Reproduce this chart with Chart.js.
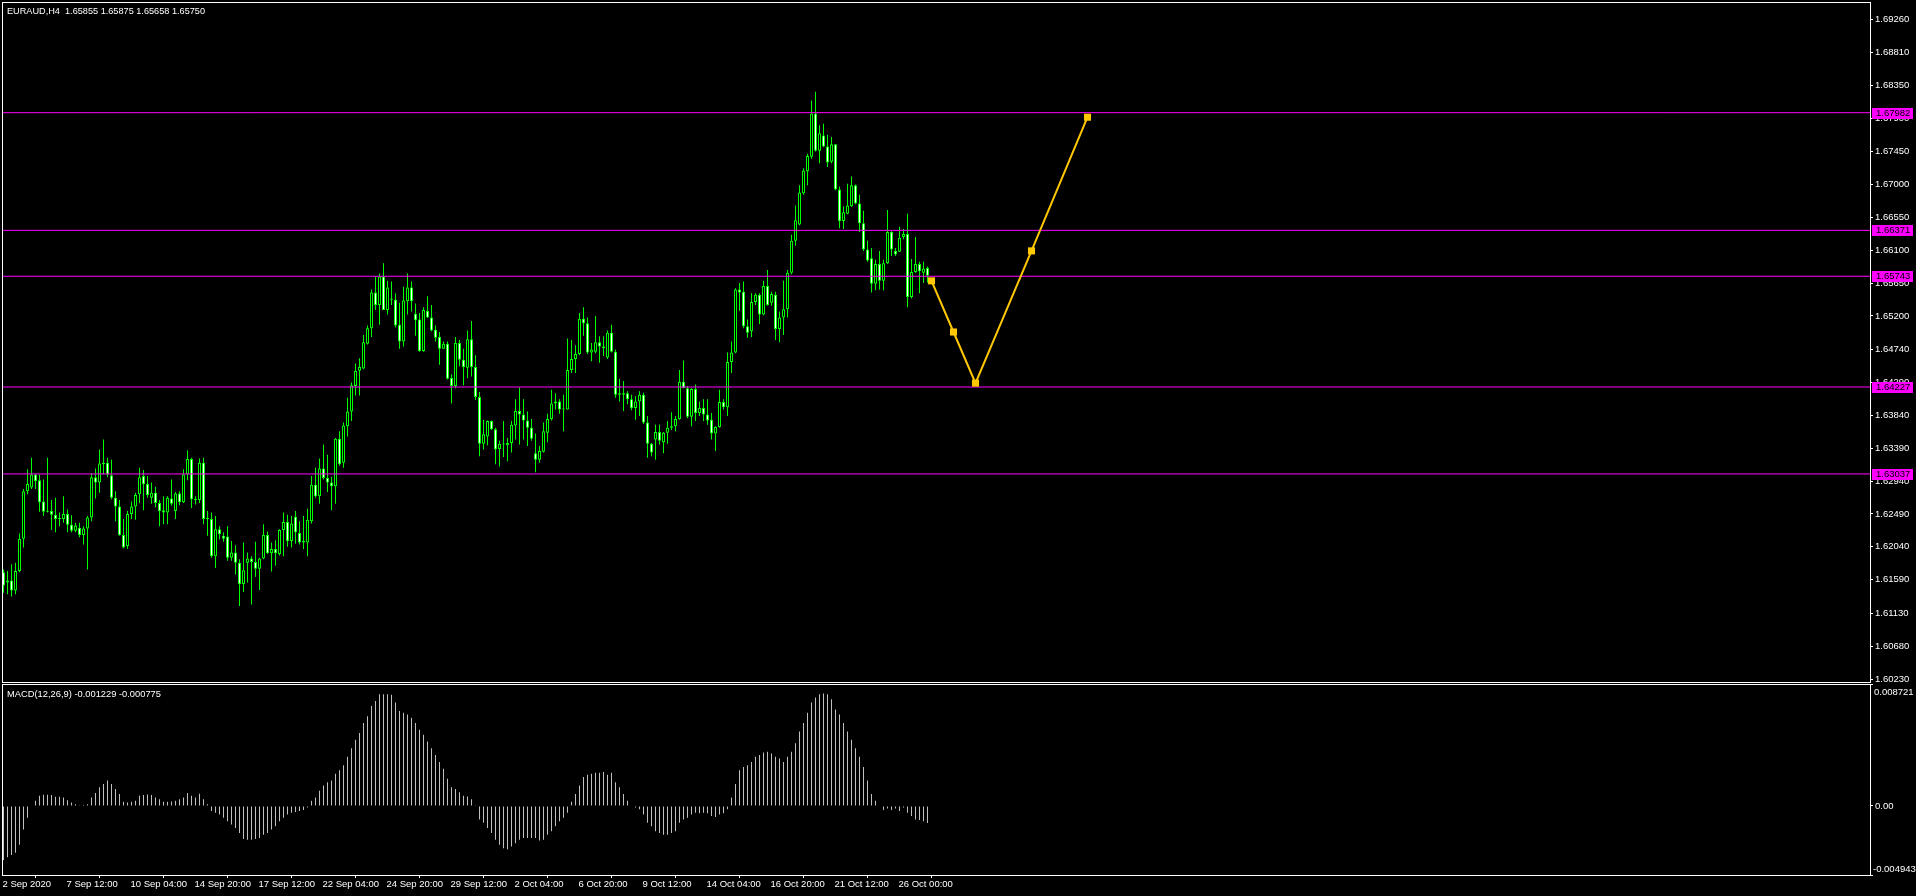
<!DOCTYPE html>
<html>
<head>
<meta charset="utf-8">
<title>EURAUD,H4</title>
<script src="https://cdn.jsdelivr.net/npm/chart.js@4.4.0/dist/chart.umd.min.js"></script>
<style>
  html, body { margin: 0; padding: 0; background: #000; overflow: hidden; }
  #wrap { position: relative; width: 1916px; height: 896px; background: #000; }
  canvas { position: absolute; left: 0; }
  #main { top: 0; }
  #macd { top: 684px; }
</style>
</head>
<body>
<div id="wrap">
  <canvas id="main" width="1916" height="684"></canvas>
  <canvas id="macd" width="1916" height="212"></canvas>
</div>
<script>
const symbol = 'EURAUD';
const timeframe = 'H4';

// H4 candles, 2 Sep 2020 20:00 .. 27 Oct 2020
const opens = [
  1.6169, 1.6155, 1.6158, 1.6144, 1.6171, 1.6215, 1.6280, 1.6285, 1.6303, 1.6295,
  1.6266, 1.6252, 1.6253, 1.6248, 1.6242, 1.6242, 1.6249, 1.6234, 1.6226, 1.6230,
  1.6220, 1.6229, 1.6244, 1.6299, 1.6292, 1.6317, 1.6319, 1.6302, 1.6271, 1.6259,
  1.6220, 1.6205, 1.6249, 1.6259, 1.6276, 1.6301, 1.6290, 1.6271, 1.6278, 1.6264,
  1.6254, 1.6251, 1.6270, 1.6253, 1.6277, 1.6265, 1.6303, 1.6324, 1.6269, 1.6268,
  1.6319, 1.6242, 1.6242, 1.6191, 1.6228, 1.6219, 1.6218, 1.6189, 1.6196, 1.6182,
  1.6153, 1.6182, 1.6188, 1.6183, 1.6174, 1.6188, 1.6220, 1.6195, 1.6201, 1.6194,
  1.6227, 1.6238, 1.6212, 1.6245, 1.6223, 1.6210, 1.6210, 1.6239, 1.6289, 1.6273,
  1.6311, 1.6298, 1.6292, 1.6287, 1.6352, 1.6319, 1.6369, 1.6389, 1.6424, 1.6445,
  1.6448, 1.6482, 1.6503, 1.6552, 1.6535, 1.6574, 1.6528, 1.6544, 1.6542, 1.6508,
  1.6485, 1.6540, 1.6559, 1.6523, 1.6515, 1.6472, 1.6527, 1.6518, 1.6501, 1.6491,
  1.6475, 1.6482, 1.6435, 1.6424, 1.6483, 1.6460, 1.6449, 1.6488, 1.6450, 1.6409,
  1.6345, 1.6355, 1.6376, 1.6365, 1.6338, 1.6344, 1.6343, 1.6346, 1.6370, 1.6390,
  1.6385, 1.6377, 1.6367, 1.6332, 1.6323, 1.6334, 1.6360, 1.6379, 1.6400, 1.6403,
  1.6392, 1.6392, 1.6446, 1.6461, 1.6468, 1.6516, 1.6510, 1.6470, 1.6471, 1.6484,
  1.6478, 1.6463, 1.6497, 1.6471, 1.6412, 1.6414, 1.6414, 1.6406, 1.6394, 1.6403,
  1.6412, 1.6374, 1.6345, 1.6351, 1.6361, 1.6347, 1.6360, 1.6367, 1.6369, 1.6379,
  1.6430, 1.6421, 1.6382, 1.6420, 1.6387, 1.6394, 1.6385, 1.6378, 1.6359, 1.6368,
  1.6402, 1.6395, 1.6457, 1.6470, 1.6556, 1.6553, 1.6506, 1.6499, 1.6539, 1.6549,
  1.6522, 1.6561, 1.6538, 1.6549, 1.6502, 1.6518, 1.6529, 1.6579, 1.6623, 1.6645,
  1.6688, 1.6718, 1.6738, 1.6797, 1.6746, 1.6767, 1.6752, 1.6731, 1.6755, 1.6693,
  1.6650, 1.6660, 1.6670, 1.6699, 1.6674, 1.6647, 1.6611, 1.6599, 1.6564, 1.6591,
  1.6568, 1.6592, 1.6635, 1.6609, 1.6608, 1.6628, 1.6632, 1.6546, 1.6580, 1.6591,
  1.6579, 1.65855
];
const highs = [
  1.6173, 1.6171, 1.6180, 1.6182, 1.6222, 1.6283, 1.6310, 1.6326, 1.6304, 1.6303,
  1.6296, 1.6326, 1.6268, 1.6271, 1.6251, 1.6273, 1.6255, 1.6247, 1.6237, 1.6237,
  1.6232, 1.6246, 1.6305, 1.6311, 1.6337, 1.6351, 1.6326, 1.6323, 1.6280, 1.6268,
  1.6242, 1.6253, 1.6266, 1.6278, 1.6312, 1.6309, 1.6301, 1.6292, 1.6286, 1.6268,
  1.6273, 1.6273, 1.6296, 1.6279, 1.6280, 1.6310, 1.6336, 1.6326, 1.6273, 1.6325,
  1.6326, 1.6253, 1.6251, 1.6246, 1.6232, 1.6224, 1.6232, 1.6212, 1.6206, 1.6187,
  1.6210, 1.6196, 1.6191, 1.6211, 1.6189, 1.6235, 1.6225, 1.6210, 1.6213, 1.6228,
  1.6251, 1.6248, 1.6246, 1.6253, 1.6239, 1.6246, 1.6256, 1.6301, 1.6312, 1.6325,
  1.6344, 1.6330, 1.6300, 1.6353, 1.6362, 1.6374, 1.6408, 1.6429, 1.6455, 1.6462,
  1.6494, 1.6507, 1.6556, 1.6574, 1.6578, 1.6592, 1.6568, 1.6567, 1.6551, 1.6538,
  1.6560, 1.6578, 1.6567, 1.6537, 1.6524, 1.6532, 1.6547, 1.6535, 1.6507, 1.6498,
  1.6485, 1.6485, 1.6440, 1.6491, 1.6487, 1.6475, 1.6500, 1.6513, 1.6466, 1.6416,
  1.6378, 1.6377, 1.6377, 1.6367, 1.6349, 1.6376, 1.6353, 1.6376, 1.6406, 1.6422,
  1.6406, 1.6389, 1.6379, 1.6359, 1.6342, 1.6374, 1.6386, 1.6419, 1.6414, 1.6406,
  1.6412, 1.6489, 1.6487, 1.6480, 1.6524, 1.6532, 1.6518, 1.6483, 1.6520, 1.6492,
  1.6492, 1.6500, 1.6508, 1.6474, 1.6434, 1.6431, 1.6417, 1.6412, 1.6410, 1.6417,
  1.6415, 1.6383, 1.6346, 1.6371, 1.6371, 1.6361, 1.6376, 1.6388, 1.6383, 1.6446,
  1.6459, 1.6424, 1.6421, 1.6426, 1.6403, 1.6406, 1.6406, 1.6387, 1.6369, 1.6419,
  1.6406, 1.6470, 1.6485, 1.6558, 1.6565, 1.6567, 1.6515, 1.6551, 1.6551, 1.6551,
  1.6568, 1.6583, 1.6553, 1.6553, 1.6526, 1.6568, 1.6583, 1.6631, 1.6671, 1.6699,
  1.6722, 1.6742, 1.6815, 1.6827, 1.6781, 1.6783, 1.6768, 1.6765, 1.6755, 1.6697,
  1.6670, 1.6701, 1.6711, 1.6700, 1.6686, 1.6664, 1.6623, 1.6613, 1.6597, 1.6609,
  1.6597, 1.6665, 1.6636, 1.6613, 1.6642, 1.6639, 1.6660, 1.6598, 1.6628, 1.6594,
  1.6594, 1.65875
];
const lows = [
  1.6141, 1.6139, 1.6136, 1.6139, 1.6169, 1.6203, 1.6276, 1.6283, 1.6283, 1.6252,
  1.6246, 1.6251, 1.6227, 1.6224, 1.6232, 1.6237, 1.6224, 1.6224, 1.6224, 1.6217,
  1.6207, 1.6173, 1.6239, 1.6270, 1.6278, 1.6303, 1.6299, 1.6269, 1.6239, 1.6219,
  1.6202, 1.6201, 1.6242, 1.6241, 1.6264, 1.6254, 1.6271, 1.6263, 1.6258, 1.6232,
  1.6235, 1.6235, 1.6260, 1.6242, 1.6261, 1.6264, 1.6295, 1.6257, 1.6262, 1.6264,
  1.6235, 1.6219, 1.6189, 1.6175, 1.6214, 1.6211, 1.6185, 1.6185, 1.6166, 1.6123,
  1.6142, 1.6155, 1.6125, 1.6163, 1.6145, 1.6187, 1.6194, 1.6170, 1.6178, 1.6192,
  1.6191, 1.6204, 1.6203, 1.6208, 1.6207, 1.6201, 1.6191, 1.6236, 1.6271, 1.6263,
  1.6296, 1.6279, 1.6254, 1.6263, 1.6315, 1.6312, 1.6355, 1.6376, 1.6411, 1.6411,
  1.6447, 1.6481, 1.6491, 1.6528, 1.6508, 1.6528, 1.6522, 1.6535, 1.6504, 1.6475,
  1.6478, 1.6522, 1.6526, 1.6493, 1.6471, 1.6471, 1.6517, 1.6499, 1.6485, 1.6453,
  1.6475, 1.6433, 1.6400, 1.6421, 1.6451, 1.6425, 1.6435, 1.6437, 1.6405, 1.6328,
  1.6337, 1.6343, 1.6364, 1.6317, 1.6314, 1.6327, 1.6321, 1.6333, 1.6351, 1.6344,
  1.6351, 1.6342, 1.6349, 1.6306, 1.6319, 1.6333, 1.6347, 1.6377, 1.6392, 1.6386,
  1.6362, 1.6392, 1.6442, 1.6442, 1.6466, 1.6493, 1.6468, 1.6458, 1.6469, 1.6456,
  1.6465, 1.6461, 1.6470, 1.6408, 1.6403, 1.6390, 1.6399, 1.6391, 1.6378, 1.6383,
  1.6372, 1.6326, 1.6328, 1.6323, 1.6344, 1.6332, 1.6345, 1.6364, 1.6362, 1.6378,
  1.6421, 1.6380, 1.6369, 1.6376, 1.6383, 1.6376, 1.6371, 1.6351, 1.6335, 1.6367,
  1.6392, 1.6383, 1.6442, 1.6469, 1.6527, 1.6503, 1.6490, 1.6491, 1.6535, 1.6509,
  1.6521, 1.6534, 1.6534, 1.6487, 1.6484, 1.6494, 1.6518, 1.6577, 1.6616, 1.6644,
  1.6686, 1.6699, 1.6735, 1.6745, 1.6729, 1.6751, 1.6724, 1.6729, 1.6692, 1.6640,
  1.6639, 1.6659, 1.6669, 1.6673, 1.6635, 1.6609, 1.6594, 1.6552, 1.6555, 1.6556,
  1.6555, 1.6591, 1.6602, 1.6602, 1.6608, 1.6625, 1.6532, 1.6544, 1.6579, 1.6551,
  1.6565, 1.65658
];
const closes = [
  1.6151, 1.6158, 1.6144, 1.6171, 1.6215, 1.6280, 1.6290, 1.6303, 1.6294, 1.6265,
  1.6252, 1.6253, 1.6248, 1.6242, 1.6243, 1.6249, 1.6234, 1.6226, 1.6233, 1.6220,
  1.6229, 1.6244, 1.6299, 1.6292, 1.6318, 1.6319, 1.6303, 1.6271, 1.6259, 1.6220,
  1.6203, 1.6249, 1.6259, 1.6275, 1.6299, 1.6290, 1.6275, 1.6278, 1.6264, 1.6253,
  1.6251, 1.6271, 1.6263, 1.6277, 1.6265, 1.6303, 1.6324, 1.6269, 1.6268, 1.6319,
  1.6242, 1.6243, 1.6191, 1.6228, 1.6221, 1.6215, 1.6189, 1.6196, 1.6182, 1.6153,
  1.6172, 1.6188, 1.6183, 1.6174, 1.6188, 1.6220, 1.6195, 1.6201, 1.6195, 1.6227,
  1.6238, 1.6212, 1.6236, 1.6224, 1.6210, 1.6212, 1.6241, 1.6289, 1.6273, 1.6311,
  1.6298, 1.6292, 1.6287, 1.6352, 1.6317, 1.6370, 1.6389, 1.6425, 1.6445, 1.6450,
  1.6484, 1.6503, 1.6552, 1.6535, 1.6574, 1.6528, 1.6559, 1.6542, 1.6507, 1.6485,
  1.6541, 1.6559, 1.6540, 1.6514, 1.6472, 1.6528, 1.6518, 1.6500, 1.6490, 1.6475,
  1.6482, 1.6434, 1.6424, 1.6483, 1.6460, 1.6450, 1.6488, 1.6450, 1.6409, 1.6345,
  1.6358, 1.6376, 1.6365, 1.6337, 1.6345, 1.6345, 1.6346, 1.6371, 1.6390, 1.6385,
  1.6377, 1.6367, 1.6352, 1.6323, 1.6335, 1.6362, 1.6379, 1.6400, 1.6403, 1.6392,
  1.6393, 1.6446, 1.6461, 1.6468, 1.6516, 1.6510, 1.6470, 1.6474, 1.6484, 1.6478,
  1.6476, 1.6497, 1.6471, 1.6412, 1.6414, 1.6412, 1.6406, 1.6394, 1.6403, 1.6412,
  1.6374, 1.6345, 1.6333, 1.6361, 1.6349, 1.6360, 1.6367, 1.6369, 1.6379, 1.6430,
  1.6421, 1.6382, 1.6420, 1.6387, 1.6394, 1.6385, 1.6377, 1.6359, 1.6368, 1.6402,
  1.6395, 1.6457, 1.6470, 1.6556, 1.6552, 1.6506, 1.6497, 1.6539, 1.6549, 1.6522,
  1.6561, 1.6535, 1.6550, 1.6502, 1.6518, 1.6529, 1.6579, 1.6623, 1.6651, 1.6689,
  1.6719, 1.6739, 1.6797, 1.6746, 1.6770, 1.6752, 1.6730, 1.6755, 1.6693, 1.6650,
  1.6662, 1.6671, 1.6699, 1.6674, 1.6647, 1.6611, 1.6596, 1.6564, 1.6591, 1.6568,
  1.6592, 1.6635, 1.6611, 1.6604, 1.6627, 1.6632, 1.6546, 1.6580, 1.6591, 1.6581,
  1.6585, 1.6575
];

// MACD(12,26,9) main histogram, one value per candle
const macdParams = [12, 26, 9];
const macdHist = [
  -0.003876, -0.003682, -0.003513, -0.003343, -0.002786, -0.001696, -0.000848, -0.000048,
  0.000363, 0.000727, 0.000799, 0.000799, 0.000775, 0.000654, 0.000654, 0.000606, 0.000412, 0.000242,
  0.000121, 0.000048, 0.000073, 0.000121, 0.000606, 0.000921, 0.001332, 0.001575, 0.001817, 0.001575,
  0.001211, 0.000848, 0.000291, 0.000242, 0.000291, 0.000363, 0.000727, 0.000775, 0.000824, 0.000775,
  0.000606, 0.000485, 0.000291, 0.000291, 0.000315, 0.000363, 0.000485, 0.000606, 0.000921, 0.000727,
  0.000606, 0.000872, 0.000485, 0.000121,
  -0.000363, -0.000485, -0.000606, -0.000848, -0.001090, -0.001332, -0.001575, -0.001938, -0.002374,
  -0.002423, -0.002423, -0.002374, -0.002301, -0.002059, -0.001938, -0.001696, -0.001454, -0.001090,
  -0.000848, -0.000606, -0.000485, -0.000436, -0.000363, -0.000291, -0.000121,
  0.000363, 0.000606, 0.001090, 0.001454, 0.001696, 0.001817, 0.002301, 0.002544, 0.002907, 0.003513,
  0.004118, 0.004724, 0.005208, 0.005935, 0.006420, 0.007146, 0.007510, 0.007994, 0.007994, 0.007994,
  0.007946, 0.007389, 0.006783, 0.006662, 0.006541, 0.006299, 0.005935, 0.005451, 0.005087, 0.004603,
  0.004118, 0.003634, 0.003149, 0.002665, 0.001938, 0.001332, 0.001211, 0.000969, 0.000727, 0.000678,
  0.000485, 0.000048,
  -0.000969, -0.001211, -0.001575, -0.001938, -0.002423, -0.002786, -0.003028, -0.003101, -0.002907,
  -0.002665, -0.002423, -0.002301, -0.002301, -0.002301, -0.002301, -0.002471, -0.002423, -0.002059,
  -0.001817, -0.001454, -0.001090, -0.000848, -0.000485,
  0.000291, 0.000848, 0.001454, 0.002059, 0.002229, 0.002301, 0.002374, 0.002374, 0.002423, 0.002229,
  0.002374, 0.001696, 0.001332, 0.000848, 0.000363,
  -0.000048, -0.000121, -0.000242, -0.000606, -0.001211, -0.001454, -0.001817, -0.001938, -0.002059,
  -0.002059, -0.001938, -0.001817, -0.001211, -0.000969, -0.000848, -0.000606, -0.000485, -0.000533,
  -0.000485, -0.000533, -0.000727, -0.000799, -0.000606, -0.000533, -0.000242,
  0.000606, 0.001575, 0.002544, 0.002786, 0.002907, 0.003149, 0.003513, 0.003634, 0.003828, 0.003876,
  0.003755, 0.003513, 0.003392, 0.003149, 0.003513, 0.003876, 0.004482, 0.005330, 0.005935, 0.006662,
  0.007389, 0.007752, 0.007994, 0.008043, 0.007994, 0.007631, 0.006904, 0.006541, 0.005935, 0.005330,
  0.004724, 0.004118, 0.003513, 0.002786, 0.001817, 0.000848, 0.000363,
  -0.000048, -0.000291, -0.000194, -0.000291, -0.000194, -0.000363, -0.000121, -0.000485, -0.000727,
  -0.000969, -0.001017, -0.001090, -0.001229
];
const macdSignalLast = -0.000775;

// horizontal levels (magenta) and the projected path (gold)
const levels = [1.67982, 1.66371, 1.65743, 1.64227, 1.63037];
const forecastX = [232, 237.5, 243, 257, 271];
const forecastY = [1.6568, 1.6498, 1.6428, 1.6609, 1.6792];

// axis labels
const priceTicks = [
  1.69260, 1.68810, 1.68350, 1.67900, 1.67450, 1.67000, 1.66550, 1.66100, 1.65650, 1.65200, 1.64740,
  1.64290, 1.63840, 1.63390, 1.62940, 1.62490, 1.62040, 1.61590, 1.61130, 1.60680, 1.60230
];
const timeLabels = [
  '2 Sep 2020', '7 Sep 12:00', '10 Sep 04:00', '14 Sep 20:00', '17 Sep 12:00', '22 Sep 04:00',
  '24 Sep 20:00', '29 Sep 12:00', '2 Oct 04:00', '6 Oct 20:00', '9 Oct 12:00', '14 Oct 04:00',
  '16 Oct 20:00', '21 Oct 12:00', '26 Oct 00:00'
];
const barsPerLabel = 16;

const Y_MIN = 1.60189, Y_MAX = 1.69497;
const MACD_MIN = -0.004943, MACD_MAX = 0.008721;
const X_MIN = -0.375, X_MAX = 466.625;   // 4px per bar

const LIME = '#00ff00';
const FONT_FAMILY = "'Liberation Sans', Arial, sans-serif";
const FONT_SIZE = 9.5;
const TEXT_FONT = FONT_SIZE + 'px ' + FONT_FAMILY;

Chart.defaults.color = '#ffffff';
Chart.defaults.font.family = FONT_FAMILY;
Chart.defaults.font.size = FONT_SIZE;

// white frame around the plot area
const chartFrame = {
  id: 'chartFrame',
  afterDraw(chart) {
    const { ctx, chartArea: a } = chart;
    ctx.save();
    ctx.strokeStyle = '#ffffff';
    ctx.lineWidth = 1;
    ctx.strokeRect(a.left + 0.5, a.top + 0.5, a.right - a.left, a.bottom - a.top);
    ctx.restore();
  }
};

// symbol header and the price boxes of the levels on the right scale
const priceOverlay = {
  id: 'priceOverlay',
  afterDraw(chart) {
    const { ctx } = chart;
    const y = chart.scales.y;
    const last = closes.length - 1;
    ctx.save();
    ctx.font = TEXT_FONT;
    ctx.textBaseline = 'middle';
    ctx.fillStyle = '#ffffff';
    const ohlc = [opens[last], highs[last], lows[last], closes[last]].map(v => v.toFixed(5)).join(' ');
    ctx.fillText(symbol + ',' + timeframe + '  ' + ohlc, 7, 11, 198);
    levels.forEach(v => {
      const py = Math.round(y.getPixelForValue(v));
      ctx.fillStyle = '#ff00ff';
      ctx.fillRect(y.left + 2, py - 5, 41, 11);
      ctx.fillStyle = '#000000';
      ctx.fillText(v.toFixed(5), y.left + 6, py + 0.5);
    });
    ctx.restore();
  }
};

const macdOverlay = {
  id: 'macdOverlay',
  afterDraw(chart) {
    const { ctx, chartArea: a } = chart;
    const y = chart.scales.y;
    const last = macdHist.length - 1;
    ctx.save();
    ctx.font = TEXT_FONT;
    ctx.textBaseline = 'middle';
    ctx.fillStyle = '#ffffff';
    ctx.fillText('MACD(' + macdParams.join(',') + ') ' + macdHist[last].toFixed(6) + ' ' + macdSignalLast.toFixed(6), 7, 10, 154);
    ctx.fillText(MACD_MAX.toFixed(6), y.left + 4, a.top + 8);
    ctx.fillText(MACD_MIN.toFixed(6), y.left + 3, a.bottom - 6);
    ctx.restore();
  }
};

function bodyColor(ctx) {
  const i = ctx.dataIndex;
  if (i === undefined) return '#000000';
  const o = opens[i], c = closes[i];
  if (Math.abs(c - o) <= 0.00015) return LIME;   // doji: a single line
  return c > o ? '#000000' : '#ffffff';           // bull black, bear white
}

const rightAxisWidth = s => { s.width = 46; s.paddingTop = 0; s.paddingBottom = 0; };

new Chart(document.getElementById('main'), {
  type: 'bar',
  data: {
    datasets: [
      {
        type: 'line',
        label: 'forecast',
        data: forecastX.map((x, i) => ({ x, y: forecastY[i] })),
        borderColor: '#ffc800',
        backgroundColor: '#ffc800',
        borderWidth: 2,
        pointStyle: 'rect',
        pointRadius: 5,
        pointBorderWidth: 0,
        order: 0
      },
      ...levels.map(v => ({
        type: 'line',
        label: 'level ' + v,
        data: [{ x: X_MIN, y: v }, { x: X_MAX, y: v }],
        borderColor: '#ff00ff',
        borderWidth: 1,
        pointRadius: 0,
        order: 1
      })),
      {
        label: 'body',
        data: opens.map((o, i) => ({ x: i, y: [o, closes[i]] })),
        backgroundColor: bodyColor,
        borderColor: LIME,
        borderWidth: 1,
        borderSkipped: false,
        barThickness: 3,
        minBarLength: 1,
        inflateAmount: 0,
        grouped: false,
        order: 2
      },
      {
        label: 'wick',
        data: highs.map((h, i) => ({ x: i, y: [lows[i], h] })),
        backgroundColor: LIME,
        borderWidth: 0,
        barThickness: 1,
        inflateAmount: 0,
        grouped: false,
        order: 3
      }
    ]
  },
  options: {
    responsive: false,
    animation: false,
    devicePixelRatio: 1,
    events: [],
    layout: { padding: { left: 2, top: 2, right: 0, bottom: 2 }, autoPadding: false },
    plugins: { legend: { display: false }, tooltip: { enabled: false } },
    scales: {
      x: { type: 'linear', min: X_MIN, max: X_MAX, offset: false, display: false },
      y: {
        type: 'linear',
        position: 'right',
        min: Y_MIN,
        max: Y_MAX,
        beginAtZero: false,
        afterBuildTicks: s => { s.ticks = priceTicks.map(v => ({ value: v })); },
        afterFit: rightAxisWidth,
        ticks: { color: '#ffffff', padding: 2, autoSkip: false, callback: v => v.toFixed(5) },
        grid: { drawOnChartArea: false, drawTicks: true, tickLength: 3, color: '#ffffff' },
        border: { display: true, color: '#ffffff' }
      }
    }
  },
  plugins: [chartFrame, priceOverlay]
});

new Chart(document.getElementById('macd'), {
  type: 'bar',
  data: {
    datasets: [{
      label: 'MACD',
      data: macdHist.map((v, i) => ({ x: i, y: v })),
      backgroundColor: '#c0c0c0',
      borderWidth: 0,
      barThickness: 1,
      inflateAmount: 0,
      grouped: false
    }]
  },
  options: {
    responsive: false,
    animation: false,
    devicePixelRatio: 1,
    events: [],
    layout: { padding: { left: 2, top: 0, right: 0, bottom: 0 }, autoPadding: false },
    plugins: { legend: { display: false }, tooltip: { enabled: false } },
    scales: {
      x: {
        type: 'linear',
        min: X_MIN,
        max: X_MAX,
        offset: false,
        position: 'bottom',
        afterBuildTicks: s => { s.ticks = timeLabels.map((_, k) => ({ value: k * barsPerLabel })); },
        afterFit: s => { s.height = 21; s.paddingLeft = 0; s.paddingRight = 0; },
        ticks: {
          color: '#ffffff', align: 'start', padding: 1, maxRotation: 0, minRotation: 0,
          autoSkip: false, labelOffset: -1,
          callback: v => timeLabels[Math.round(v / barsPerLabel)]
        },
        grid: { drawOnChartArea: false, drawTicks: true, tickLength: 3, color: '#ffffff' },
        border: { display: false }
      },
      y: {
        type: 'linear',
        position: 'right',
        min: MACD_MIN,
        max: MACD_MAX,
        beginAtZero: false,
        afterBuildTicks: s => { s.ticks = [{ value: MACD_MAX }, { value: 0 }, { value: MACD_MIN }]; },
        afterFit: rightAxisWidth,
        ticks: { color: '#ffffff', padding: 2, autoSkip: false, callback: v => (v === 0 ? '0.00' : '') },
        grid: { drawOnChartArea: false, drawTicks: true, tickLength: 3, color: '#ffffff' },
        border: { display: true, color: '#ffffff' }
      }
    }
  },
  plugins: [chartFrame, macdOverlay]
});
</script>
</body>
</html>
